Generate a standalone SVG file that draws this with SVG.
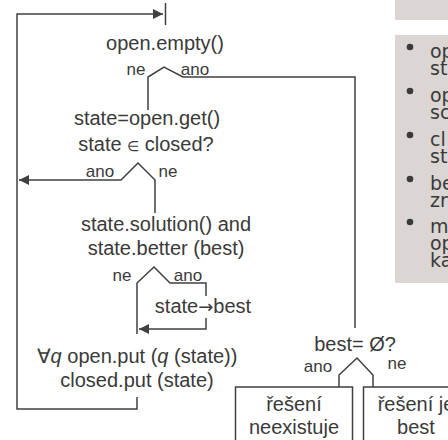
<svg xmlns="http://www.w3.org/2000/svg" width="448" height="440" viewBox="0 0 448 440">
<defs>
<style>
.t{font-family:"Liberation Sans",Arial,sans-serif;font-size:20px;fill:#3a3a3a;text-anchor:middle}
.l{font-family:"Liberation Sans",Arial,sans-serif;font-size:17px;fill:#3a3a3a;text-anchor:middle}
.b{font-family:"DejaVu Sans",Verdana,sans-serif;font-size:19px;fill:#3a3a3a}
.c{fill:none;stroke:#404040;stroke-width:1.5}
.box{fill:#fff;stroke:#404040;stroke-width:1.5}
.panel{fill:#dbd6d3}
.sym{font-family:"DejaVu Sans",sans-serif}
</style>
<marker id="ah" markerWidth="11" markerHeight="11" refX="10" refY="5" orient="auto" markerUnits="userSpaceOnUse">
<path d="M0,0 L10,5 L0,10 z" fill="#404040"/>
</marker>
</defs>
<rect width="448" height="440" fill="#fff"/>
<g id="panel">
<rect class="panel" x="395" y="0" width="60" height="20"/>
<rect class="panel" x="395" y="35" width="60" height="248"/>
<circle cx="410" cy="47" r="3.3" fill="#3a3a3a"/>
<circle cx="410" cy="91" r="3.3" fill="#3a3a3a"/>
<circle cx="410" cy="135" r="3.3" fill="#3a3a3a"/>
<circle cx="410" cy="179" r="3.3" fill="#3a3a3a"/>
<circle cx="410" cy="222" r="3.3" fill="#3a3a3a"/>
<text class="b" x="430" y="58">op</text>
<text class="b" x="430" y="75">st</text>
<text class="b" x="430" y="102">op</text>
<text class="b" x="430" y="119">sc</text>
<text class="b" x="430" y="146">cl</text>
<text class="b" x="430" y="163">st</text>
<text class="b" x="430" y="190">be</text>
<text class="b" x="430" y="207">zr</text>
<text class="b" x="430" y="233">m</text>
<text class="b" x="430" y="250">op</text>
<text class="b" x="430" y="267">ka</text>
</g>
<g id="connectors">
<polyline class="c" points="137,397 137,409 17,409 17,14 163,14" marker-end="url(#ah)"/>
<line class="c" x1="165.5" y1="3" x2="165.5" y2="25"/>
<polyline class="c" points="148,110 148,77 164,67 183,77 355,77 355,328"/>
<polyline class="c" points="155,213 155,180 138,163 121,180 19,180" marker-end="url(#ah)"/>
<polyline class="c" points="137,334 137,283 154,267 170,283 206,283 206,296"/>
<polyline class="c" points="206,318 206,329 139,329" marker-end="url(#ah)"/>
<polyline class="c" points="339,387 339,375 357,358 373,375 373,387"/>
</g>
<g id="labels">
<text class="l" x="136" y="75">ne</text>
<text class="l" x="195" y="75">ano</text>
<text class="l" x="100" y="177">ano</text>
<text class="l" x="168" y="177">ne</text>
<text class="l" x="122" y="281">ne</text>
<text class="l" x="188" y="281">ano</text>
<text class="l" x="318" y="372">ano</text>
<text class="l" x="397" y="369">ne</text>
</g>
<g id="n-empty"><text class="t" x="165" y="50">open.empty()</text></g>
<g id="n-get">
<text class="t" x="147" y="125">state=open.get()</text>
<text class="t" x="146" y="151">state <tspan font-size="14">∈</tspan> closed?</text>
</g>
<g id="n-solution">
<text class="t" x="166" y="231">state.solution() and</text>
<text class="t" x="166" y="255">state.better (best)</text>
</g>
<g id="n-assign"><text class="t" x="203" y="313">state<tspan class="sym" font-size="18">→</tspan>best</text></g>
<g id="n-put">
<text class="t" x="137" y="363">∀<tspan font-style="italic">q</tspan> open.put (<tspan font-style="italic">q</tspan> (state))</text>
<text class="t" x="137" y="387">closed.put (state)</text>
</g>
<g id="n-best"><text class="t" x="355" y="351">best= Ø?</text></g>
<g id="n-none">
<rect class="box" x="235.5" y="387" width="117" height="60"/>
<text class="t" x="294" y="411">řešení</text>
<text class="t" x="294" y="434">neexistuje</text>
</g>
<g id="n-found">
<rect class="box" x="363.5" y="387" width="105" height="60"/>
<text class="t" x="416" y="411">řešení je</text>
<text class="t" x="416" y="434">best</text>
</g>
</svg>
